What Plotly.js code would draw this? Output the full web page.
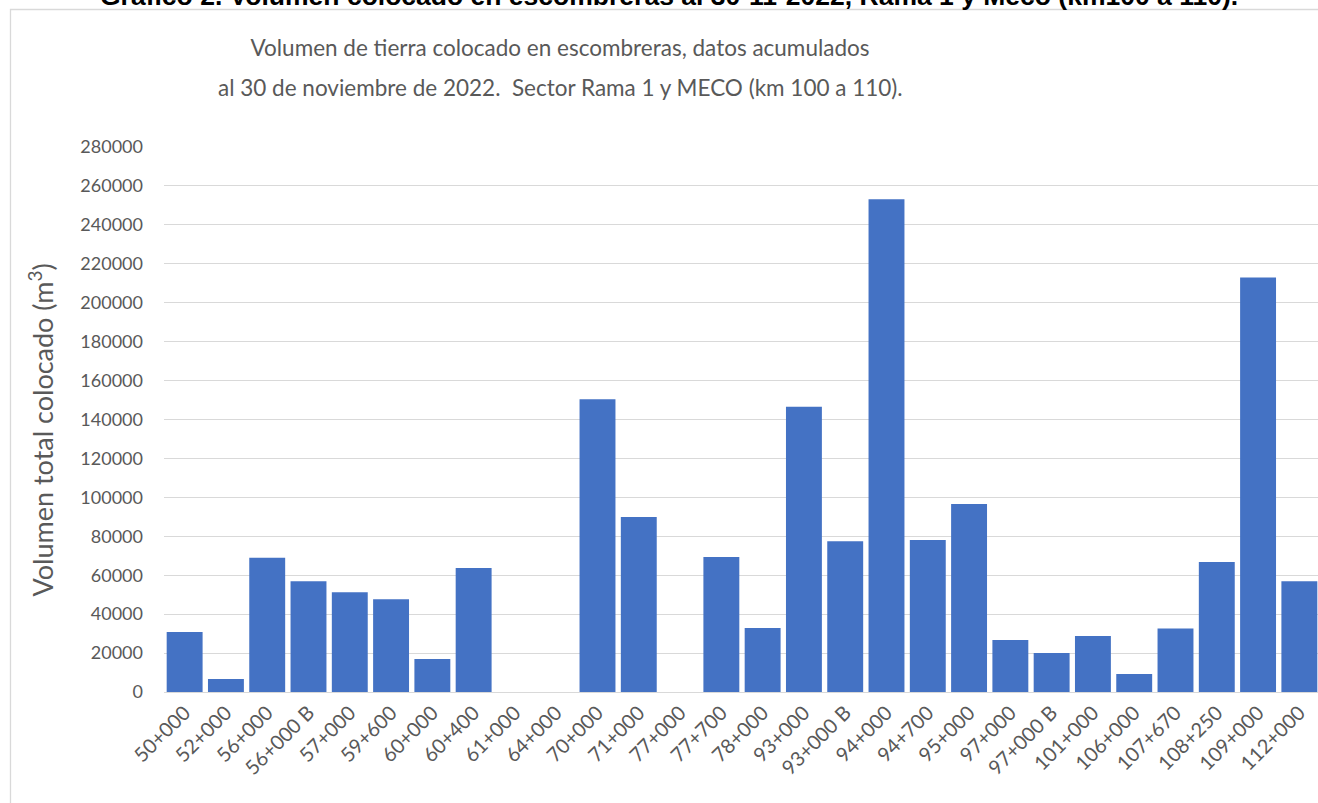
<!DOCTYPE html>
<html>
<head>
<meta charset="utf-8">
<script src="https://cdn.plot.ly/plotly-3.0.1.min.js"></script>
<style>
html,body{margin:0;padding:0;overflow:hidden;background:#fff;}
#chart{width:1320px;height:803px;}
</style>
</head>
<body>
<div id="chart"></div>
<script>
const categories = ["50+000","52+000","56+000","56+000 B","57+000","59+600","60+000","60+400","61+000","64+000","70+000","71+000","77+000","77+700","78+000","93+000","93+000 B","94+000","94+700","95+000","97+000","97+000 B","101+000","106+000","107+670","108+250","109+000","112+000"];
const volumes = [30800, 6700, 69000, 56900, 51200, 47600, 17000, 63700, 0, 0, 150400, 89900, 0, 69300, 32900, 146600, 77400, 253100, 78100, 96600, 26700, 20000, 28800, 9250, 32600, 66800, 213000, 56900];
const yTicks = [0,20000,40000,60000,80000,100000,120000,140000,160000,180000,200000,220000,240000,260000,280000];

const titleLine1 = "Volumen de tierra colocado en escombreras, datos acumulados";
const titleLine2 = "al 30 de noviembre de 2022.  Sector Rama 1 y MECO (km 100 a 110).";
const topTitle = "Gráfico 2. Volumen colocado en escombreras al 30-11-2022, Rama 1 y Meco (km100 a 110).";
const yTitle = "Volumen total colocado (m<sup>3</sup>)&nbsp;&nbsp;&nbsp;";

const W = 1320, H = 803, L = 164, R = 0, T = 147, B = 111;
const pw = W - L - R, ph = H - T - B;
const px = x => (x - L) / pw;
const py = y => (H - B - y) / ph;

const trace = {
  type: 'bar',
  x: categories,
  y: volumes,
  marker: {color: '#4472C4', line: {width: 0}},
  hoverinfo: 'x+y'
};

const tickFont = {family: 'Lato, sans-serif', size: 18, color: '#595959'};

const layout = {
  width: W, height: H,
  margin: {l: L, r: R, t: T, b: B, pad: 0},
  paper_bgcolor: '#ffffff',
  plot_bgcolor: '#ffffff',
  showlegend: false,
  bargap: 0.13,
  title: {
    text: titleLine1,
    font: {family: 'Lato, sans-serif', size: 22.5, color: '#595959'},
    xref: 'container', x: 560 / W, xanchor: 'center',
    yref: 'container', y: 1 - 48 / H, yanchor: 'middle'
  },
  xaxis: {
    type: 'category',
    tickangle: -45,
    tickfont: {family: 'Lato, sans-serif', size: 20, color: '#595959'},
    showgrid: false,
    showline: true,
    linecolor: '#d9d9d9',
    linewidth: 1.3,
    ticks: '',
    fixedrange: true
  },
  yaxis: {
    range: [0, 280000],
    tickvals: yTicks,
    ticktext: yTicks.map(v => String(v)),
    tickfont: tickFont,
    ticklabelstandoff: 20,
    showgrid: true,
    gridcolor: '#d9d9d9',
    gridwidth: 1.3,
    zeroline: false,
    showline: false,
    ticks: '',
    title: {
      text: yTitle,
      font: {family: 'Lato, sans-serif', size: 27, color: '#595959'},
      standoff: 18
    },
    fixedrange: true
  },
  annotations: [
    {
      text: titleLine2,
      xref: 'paper', yref: 'paper',
      x: px(560), y: py(88),
      xanchor: 'center', yanchor: 'middle',
      showarrow: false,
      font: {family: 'Lato, sans-serif', size: 22.5, color: '#595959'}
    },
    {
      text: '<b>' + topTitle + '</b>',
      xref: 'paper', yref: 'paper',
      x: px(669), y: py(-3.5),
      xanchor: 'center', yanchor: 'middle',
      showarrow: false,
      font: {family: 'Liberation Sans, Arial, sans-serif', size: 26.5, color: '#000000'}
    }
  ],
  shapes: [
    {
      type: 'rect', xref: 'paper', yref: 'paper',
      x0: px(10.5), x1: px(1340), y0: py(830), y1: py(9.5),
      line: {color: '#d9d9d9', width: 1.3},
      fillcolor: 'rgba(0,0,0,0)',
      layer: 'below'
    }
  ]
};

Plotly.newPlot('chart', [trace], layout, {displayModeBar: false, responsive: false});
</script>
</body>
</html>
